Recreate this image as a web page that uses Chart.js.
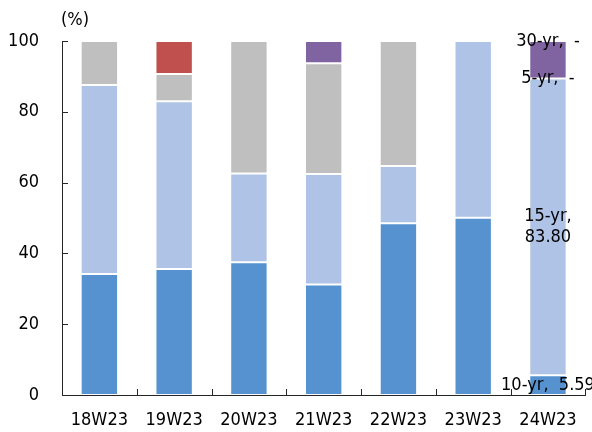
<!DOCTYPE html>
<html>
<head>
<meta charset="utf-8">
<script src="https://cdn.jsdelivr.net/npm/chart.js@4.4.1/dist/chart.umd.min.js"></script>
<style>
  html, body { margin: 0; padding: 0; background: #ffffff; }
  #wrap { width: 592px; height: 432px; position: relative; }
</style>
</head>
<body>
<div id="wrap"><canvas id="c" width="592" height="432"></canvas></div>
<script>
// Auction share by maturity (%)
const categories = ['18W23', '19W23', '20W23', '21W23', '22W23', '23W23', '24W23'];

const tenYr     = [34.2, 35.6, 37.5, 31.2, 48.5, 50.1, 5.59];
const fifteenYr = [53.4, 47.4, 25.1, 31.2, 16.2, 49.9, 83.80];
const fiveYr    = [12.4, 7.7, 37.4, 31.3, 35.3, 0, 0];
const twentyYr  = [0, 0, 0, 6.3, 0, 0, 10.61];
const thirtyYr  = [0, 9.3, 0, 0, 0, 0, 0];

const yTicks = [0, 20, 40, 60, 80, 100];
const unitLabel = '(%)';

const FONT = '"DejaVu Sans Condensed", "DejaVu Sans", Verdana, sans-serif';
const FONT_SIZE = 18;

function makeSet(label, data, color, endLabel, wrap) {
  return {
    label: label,
    data: data,
    backgroundColor: color,
    borderColor: 'rgba(255,255,255,0.2)',
    borderWidth: 1,
    borderSkipped: false,
    endLabel: endLabel,
    wrapLabel: wrap
  };
}

// Inward tick marks, unit label and end-of-series value labels
const decorPlugin = {
  id: 'decor',
  afterDatasetsDraw(chart) {
    const ctx = chart.ctx;
    const y = chart.scales.y;
    const area = chart.chartArea;
    ctx.save();
    ctx.strokeStyle = '#262626';
    ctx.lineWidth = 1;
    ctx.beginPath();
    yTicks.forEach(v => {
      const py = Math.round(y.getPixelForValue(v)) + 0.5;
      ctx.moveTo(area.left, py);
      ctx.lineTo(area.left + 6, py);
    });
    const n = categories.length;
    for (let i = 1; i <= n; i++) {
      const px = Math.round(area.left + (area.right - area.left) * i / n) + 0.5;
      ctx.moveTo(px, area.bottom);
      ctx.lineTo(px, area.bottom - 6);
    }
    ctx.stroke();

    ctx.fillStyle = '#000000';
    ctx.font = FONT_SIZE + 'px ' + FONT;
    ctx.textAlign = 'left';
    ctx.textBaseline = 'middle';
    ctx.fillText(unitLabel, area.left - 1, area.top - 21);

    ctx.textAlign = 'center';
    const last = n - 1;
    chart.data.datasets.forEach((ds, di) => {
      if (!ds.endLabel) return;
      const el = chart.getDatasetMeta(di).data[last];
      const v = ds.data[last];
      const cy = (el.y + el.base) / 2;
      const valText = v === 0 ? '-' : v.toFixed(2);
      if (ds.wrapLabel) {
        ctx.fillText(ds.label + ',', el.x, cy - 10.5);
        ctx.fillText(valText, el.x, cy + 10.5);
      } else {
        ctx.fillText(ds.label + ',  ' + valText, el.x, cy);
      }
    });
    ctx.restore();
  }
};

new Chart(document.getElementById('c'), {
  type: 'bar',
  data: {
    labels: categories,
    datasets: [
      makeSet('10-yr', tenYr, '#5592CF', true, false),
      makeSet('15-yr', fifteenYr, '#AEC3E5', true, true),
      makeSet('5-yr', fiveYr, '#BFBFBF', true, false),
      makeSet('20-yr', twentyYr, '#8064A2', false, false),
      makeSet('30-yr', thirtyYr, '#C0504D', true, false)
    ]
  },
  options: {
    responsive: false,
    animation: false,
    devicePixelRatio: 1,
    layout: { padding: { top: 41, right: 6, left: 0, bottom: 0 } },
    datasets: { bar: { categoryPercentage: 1.0, barPercentage: 0.5 } },
    plugins: { legend: { display: false }, tooltip: { enabled: false }, title: { display: false } },
    scales: {
      x: {
        stacked: true,
        grid: { display: false, drawTicks: false },
        border: { display: true, color: '#262626', width: 1 },
        ticks: { color: '#000000', font: { family: FONT, size: FONT_SIZE }, padding: 15, maxRotation: 0 },
        afterFit(s) { s.height = 37; }
      },
      y: {
        stacked: true,
        min: 0,
        max: 100,
        grid: { display: false, drawTicks: false },
        border: { display: true, color: '#262626', width: 1 },
        afterBuildTicks(s) { s.ticks = yTicks.map(v => ({ value: v })); },
        ticks: { color: '#000000', font: { family: FONT, size: FONT_SIZE }, padding: 23 },
        afterFit(s) { s.width = 62; }
      }
    }
  },
  plugins: [decorPlugin]
});
</script>
</body>
</html>
